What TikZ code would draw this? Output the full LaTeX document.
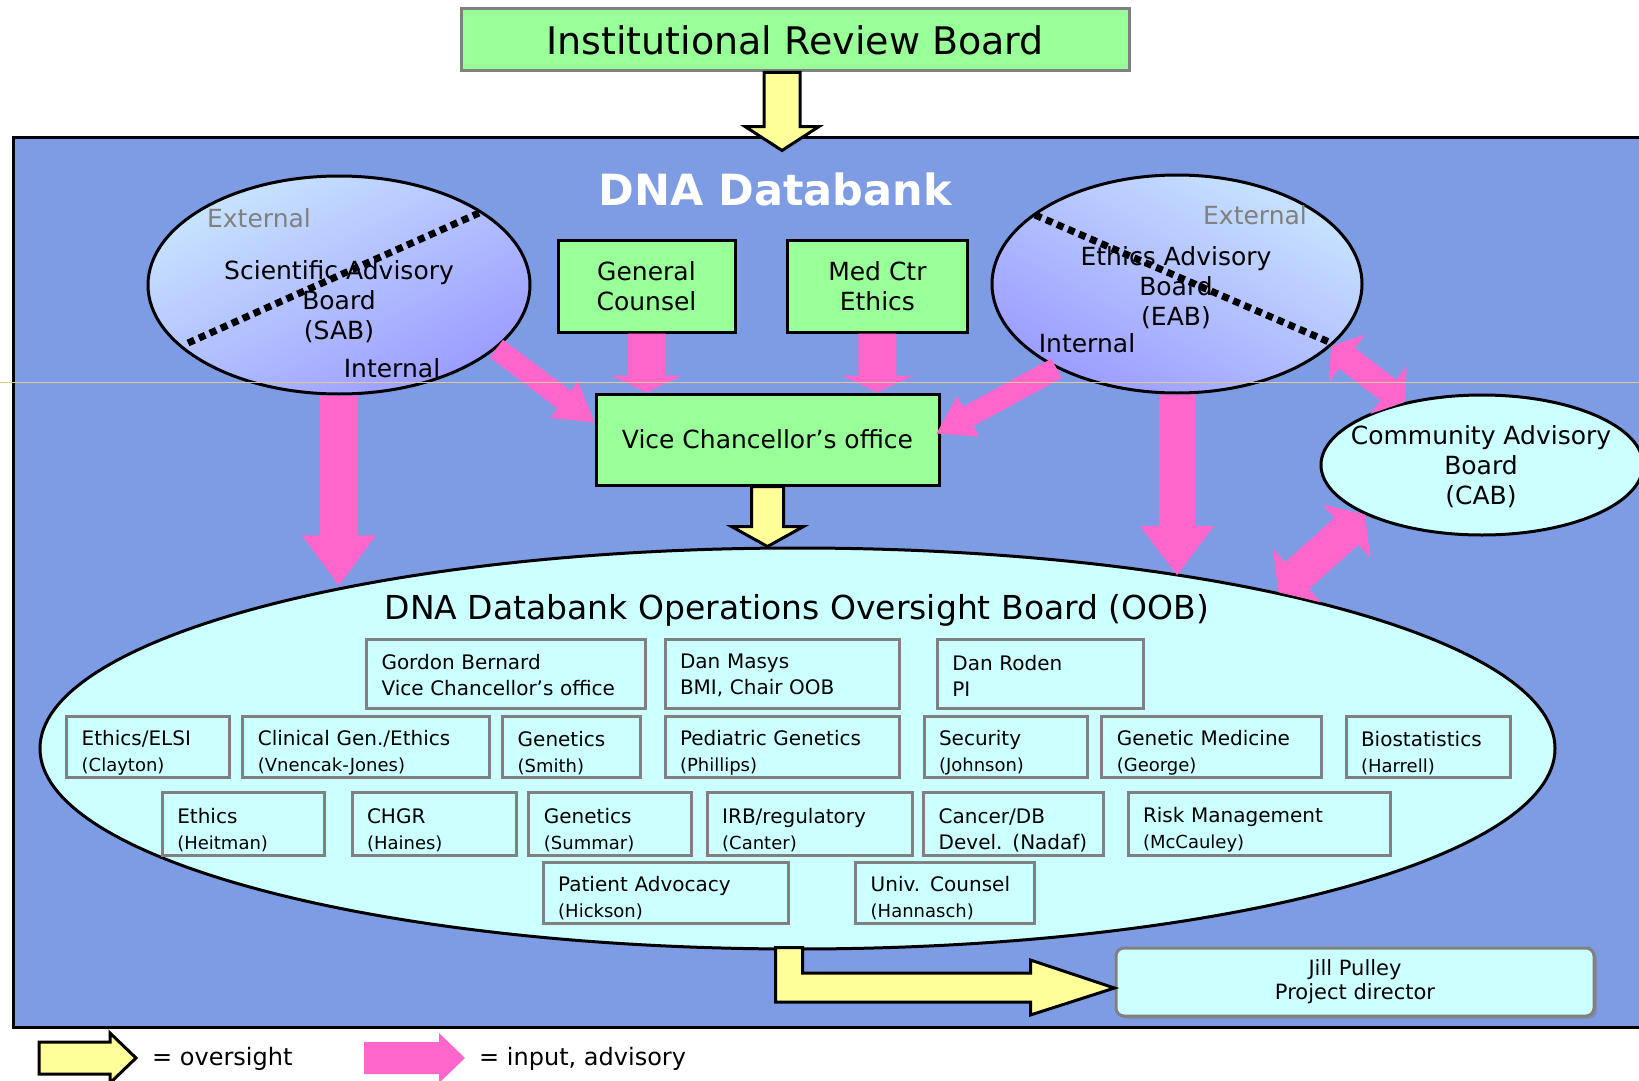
\documentclass[tikz,border=0pt]{standalone}
\usepackage{fontspec}
\setmainfont{DejaVu Sans}
\usetikzlibrary{calc,shapes.geometric,shadows}

\definecolor{bankblue}{RGB}{126,156,228}
\definecolor{boardgreen}{RGB}{153,255,153}
\definecolor{oobcyan}{RGB}{204,255,255}
\definecolor{advpink}{RGB}{255,102,204}
\definecolor{ovyellow}{RGB}{255,255,153}
\definecolor{memgray}{RGB}{128,128,128}
\definecolor{skyend}{RGB}{200,228,255}
\definecolor{lavend}{RGB}{156,156,255}
\definecolor{scanline}{RGB}{222,202,150}

\newcommand{\bodyfont}{\fontsize{25pt}{30pt}\selectfont}
\newcommand{\memfont}{\fontsize{20pt}{26pt}\selectfont}
\newcommand{\lowline}[1]{{\fontsize{18pt}{26pt}\selectfont #1}}

\newcommand{\fatarrow}[6][]{%
  \path (#2) coordinate (fa-s) (#3) coordinate (fa-t);
  \path ($(fa-t)!#6!(fa-s)$) coordinate (fa-h);
  \path[#1] ($(fa-s)!#4!90:(fa-t)$) -- ($(fa-h)!#4!-90:(fa-s)$) -- ($(fa-h)!#5!-90:(fa-s)$)
    -- (fa-t) -- ($(fa-h)!#5!90:(fa-s)$) -- ($(fa-h)!#4!90:(fa-s)$) -- ($(fa-s)!#4!-90:(fa-t)$) -- cycle;
}
\newcommand{\fatdarrow}[6][]{%
  \path (#2) coordinate (fa-s) (#3) coordinate (fa-t);
  \path ($(fa-t)!#6!(fa-s)$) coordinate (fa-h) ($(fa-s)!#6!(fa-t)$) coordinate (fa-g);
  \path[#1] (fa-s) -- ($(fa-g)!#5!90:(fa-t)$) -- ($(fa-g)!#4!90:(fa-t)$) -- ($(fa-h)!#4!-90:(fa-s)$)
    -- ($(fa-h)!#5!-90:(fa-s)$) -- (fa-t) -- ($(fa-h)!#5!90:(fa-s)$) -- ($(fa-h)!#4!90:(fa-s)$)
    -- ($(fa-g)!#4!-90:(fa-t)$) -- ($(fa-g)!#5!-90:(fa-t)$) -- cycle;
}

\begin{document}
\begin{tikzpicture}[
  x=1pt, y=-1pt,
  board/.style={draw=black, line width=3pt, fill=boardgreen, align=center, font=\bodyfont, inner sep=0pt},
  council/.style={ellipse, draw=black, line width=3pt, inner sep=0pt},
  member/.style={draw=memgray, line width=3pt, inner xsep=15pt, inner ysep=0pt, minimum height=61pt,
    text width=#1, text height=27pt, align=left, font=\memfont},
  side/.style={font=\bodyfont, text=memgray},
  advisory/.style={fill=advpink},
  oversight/.style={fill=ovyellow, draw=black, line width=3pt},
  divider/.style={line width=7pt, dash pattern=on 7pt off 5pt},
]

\fill[white] (0,0) rectangle (1639,1081);
\useasboundingbox (0,0) rectangle (1639,1081);

\node[draw=memgray, line width=3pt, fill=boardgreen, minimum width=668pt, minimum height=62pt,
  inner sep=0pt, font=\fontsize{38pt}{44pt}\selectfont] (irb) at (795,40) {Institutional Review Board};
\node[draw=black, line width=3pt, fill=bankblue, minimum width=1636pt, minimum height=890pt,
  inner sep=0pt] (bank) at (831,582) {};
\node[text=white, font=\bfseries\fontsize{43pt}{50pt}\selectfont] (dnatitle) at (775,189) {DNA Databank};

\node[council, top color=skyend, bottom color=lavend, shading angle=28,
  minimum width=382pt, minimum height=218pt] (sab) at (339,285) {};
\node[font=\bodyfont, align=center] (sabname) at (339,302) {Scientific Advisory\\Board\\(SAB)};
\node[side] (sabext) at (259,218) {External};
\node[font=\bodyfont] (sabint) at (392,368) {Internal};
\draw[divider] ($(sab.center)+(-151,58)$) -- ($(sab.center)+(140,-72)$);

\node[council, top color=skyend, bottom color=lavend, shading angle=-28,
  minimum width=370pt, minimum height=218pt] (eab) at (1177,284) {};
\node[font=\bodyfont, align=center] (eabname) at (1176,288) {Ethics Advisory\\Board\\(EAB)};
\node[side] (eabext) at (1255,215) {External};
\node[font=\bodyfont] (eabint) at (1087,343) {Internal};
\draw[divider] ($(eab.center)+(-142,-69)$) -- ($(eab.center)+(152,58)$);

\node[board, minimum width=177pt, minimum height=92pt] (counsel) at (646.5,286) {General\\Counsel};
\node[board, minimum width=180pt, minimum height=92pt] (ethics) at (877.4,286) {Med Ctr\\Ethics};
\node[board, minimum width=343pt, minimum height=91pt] (vc) at (767.5,439.5) {Vice Chancellor’s office};

\node[council, fill=oobcyan, minimum width=322pt, minimum height=140pt] (cab) at (1482,465) {};
\node[font=\bodyfont, align=center] (cabname) at (1481,467) {Community Advisory\\Board\\(CAB)};

\node[council, fill=oobcyan, minimum width=1515pt, minimum height=401pt] (oob) at (797.5,748.5) {};
\node[font=\fontsize{33pt}{40pt}\selectfont] (oobname) at (797,610) {DNA Databank Operations Oversight Board (OOB)};

\node[member=249pt, minimum height=69pt, text height=19pt] (gordon) at (506,673.5) {Gordon Bernard\\Vice Chancellor’s office};
\node[member=204pt, minimum height=69pt, text height=19pt] (masys) at (782,673.5) {Dan Masys\\BMI, Chair OOB};
\node[member=176pt, minimum height=69pt, text height=19pt] (roden) at (1040.4,673.5) {Dan Roden\\PI};

\node[member=133pt] (elsi) at (148.2,747) {Ethics/ELSI\\\lowline{(Clayton)}};
\node[member=217pt] (clingen) at (366.3,747) {Clinical Gen./Ethics\\\lowline{(Vnencak-Jones)}};
\node[member=108pt] (smith) at (571.7,747) {Genetics\\\lowline{(Smith)}};
\node[member=204pt] (phillips) at (782,747) {Pediatric Genetics\\\lowline{(Phillips)}};
\node[member=133pt] (security) at (1005.5,747) {Security\\\lowline{(Johnson)}};
\node[member=190pt] (genmed) at (1211.8,747) {Genetic Medicine\\\lowline{(George)}};
\node[member=134pt] (biostat) at (1428,747) {Biostatistics\\\lowline{(Harrell)}};

\node[member=132pt, minimum height=63pt] (heitman) at (243.3,824) {Ethics\\\lowline{(Heitman)}};
\node[member=134pt, minimum height=63pt] (chgr) at (434,824) {CHGR\\\lowline{(Haines)}};
\node[member=133pt, minimum height=63pt] (summar) at (610.4,824) {Genetics\\\lowline{(Summar)}};
\node[member=175pt, minimum height=63pt] (irbreg) at (809.7,824) {IRB/regulatory\\\lowline{(Canter)}};
\node[member=150pt, minimum height=63pt] (cancer) at (1013.7,824) {Cancer/DB\\Devel. (Nadaf)};
\node[member=232pt, minimum height=63pt] (risk) at (1259,824) {Risk Management\\\lowline{(McCauley)}};

\node[member=215pt] (hickson) at (665.7,892.5) {Patient Advocacy\\\lowline{(Hickson)}};
\node[member=149pt] (univ) at (945.2,892.5) {Univ. Counsel\\\lowline{(Hannasch)}};

\node[draw=memgray, line width=3pt, rounded corners=8pt, fill=oobcyan,
  drop shadow={shadow xshift=3pt, shadow yshift=-3pt, fill=black!50},
  minimum width=478pt, minimum height=68pt, inner sep=0pt, align=center,
  font=\fontsize{21pt}{24pt}\selectfont] (jill) at (1355,982) {Jill Pulley\\Project director};

\fatarrow[oversight]{$(irb.south)+(-13,0)$}{$(irb.south |- bank.north)+(-13,15)$}{18pt}{37pt}{24pt}
\fatarrow[oversight]{vc.south}{vc.south |- oob.north}{16pt}{36pt}{20pt}
\fatarrow[advisory]{counsel.south}{counsel.south |- vc.north}{19pt}{36pt}{17pt}
\fatarrow[advisory]{ethics.south}{ethics.south |- vc.north}{19pt}{36pt}{17pt}
\fatarrow[advisory]{sab.338}{$(vc.west)+(0,-17)$}{11pt}{23pt}{38pt}
\fatarrow[advisory]{eab.215}{$(vc.east)+(-4,-6)$}{11pt}{23pt}{36pt}
\fatarrow[advisory]{sab.south}{sab.south |- oob.160}{19pt}{37pt}{50pt}
\fatarrow[advisory]{eab.south}{eab.south |- oob.24}{18pt}{37pt}{49pt}
\fatdarrow[advisory]{eab.338}{cab.141}{13pt}{30pt}{20pt}
\fatdarrow[advisory]{cab.203}{oob.18}{18pt}{36pt}{25pt}

\draw[oversight] ($(oob.south)+(-22,-3)$) coordinate (elbowtop) -- ++(27,0) |- ($(jill.west)+(-84,-9)$)
  -- ++(0,-13) -- ($(jill.west)+(0,6)$) -- ($(jill.west)+(-84,33)$) -- ++(0,-13) -| (elbowtop) -- cycle;

\coordinate (keyov) at (39,1058);
\coordinate (keyovtip) at (136,1058);
\fatarrow[oversight]{keyov}{keyovtip}{16pt}{25pt}{26pt}
\node[anchor=west, inner sep=0pt, font=\fontsize{24pt}{28pt}\selectfont] (keyovtext) at (152,1059) {= oversight};
\coordinate (keyad) at (364,1058);
\coordinate (keyadtip) at (465,1058);
\fatarrow[advisory]{keyad}{keyadtip}{16pt}{25pt}{26pt}
\node[anchor=west, inner sep=0pt, font=\fontsize{24pt}{28pt}\selectfont] (keyadtext) at (479,1059) {= input, advisory};

\draw[scanline, line width=1pt] (0,382) -- (1639,382);

\end{tikzpicture}
\end{document}
